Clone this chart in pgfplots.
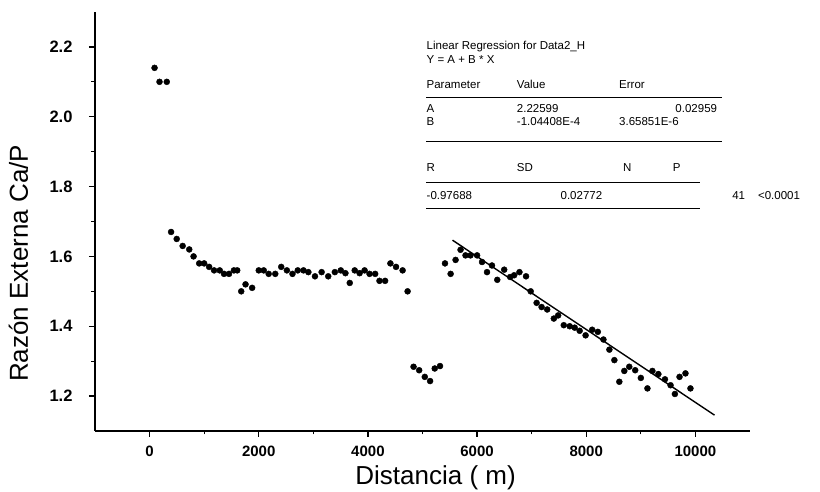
\documentclass[border=0pt]{standalone}
\usepackage{fontspec}
\setmainfont{Liberation Sans}
\usepackage{pgfplots}
\pgfplotsset{compat=1.18}
\usetikzlibrary{calc}

\pgfplotstableread{
x y
91 2.14
182 2.10
315 2.10
394 1.67
497 1.65
606 1.63
727 1.62
806 1.60
909 1.58
1000 1.58
1091 1.57
1182 1.56
1285 1.56
1364 1.55
1455 1.55
1545 1.56
1606 1.56
1679 1.50
1758 1.52
1879 1.51
2000 1.56
2091 1.56
2182 1.55
2303 1.55
2412 1.57
2515 1.56
2618 1.55
2715 1.56
2820 1.56
2909 1.555
3030 1.543
3152 1.555
3273 1.543
3394 1.555
3503 1.56
3588 1.552
3667 1.524
3758 1.56
3848 1.552
3939 1.56
4030 1.55
4133 1.55
4212 1.53
4315 1.53
4412 1.58
4515 1.57
4636 1.56
4727 1.50
4836 1.284
4939 1.274
5042 1.255
5139 1.243
5224 1.279
5321 1.286
5412 1.58
5515 1.55
5606 1.59
5697 1.619
5788 1.603
5879 1.603
6000 1.603
6091 1.584
6182 1.555
6273 1.574
6370 1.533
6497 1.562
6606 1.541
6679 1.546
6776 1.555
6897 1.543
6982 1.50
7091 1.467
7182 1.455
7285 1.448
7406 1.422
7485 1.431
7588 1.403
7697 1.40
7788 1.396
7879 1.387
7988 1.374
8109 1.39
8212 1.384
8315 1.362
8424 1.333
8515 1.303
8606 1.241
8697 1.272
8788 1.284
8897 1.274
9000 1.252
9121 1.222
9212 1.272
9321 1.263
9442 1.248
9545 1.231
9624 1.206
9709 1.255
9818 1.265
9909 1.222
}\datatable

\begin{document}
\begin{tikzpicture}
\begin{axis}[
  name=ax, scale only axis, width=655pt, height=419pt,
  xmin=-1000, xmax=11000, ymin=1.1, ymax=2.3,
  axis x line*=bottom, axis y line*=left,
  axis line style={line width=1.3pt,-},
  tick align=outside, major tick length=6pt, minor tick length=3.5pt,
  every tick/.style={black, line width=1.2pt},
  xtick={0,2000,4000,6000,8000,10000}, minor x tick num=1,
  ytick={1.2,1.4,1.6,1.8,2.0,2.2}, minor y tick num=1,
  scaled x ticks=false,
  /pgf/number format/assume math mode=true,
  x tick label style={font=\fontsize{15}{18}\selectfont\bfseries, /pgf/number format/1000 sep={}, yshift=-5pt},
  y tick label style={font=\fontsize{16.5}{18}\selectfont\bfseries, xshift=-13pt,
    /pgf/number format/fixed, /pgf/number format/precision=1, /pgf/number format/fixed zerofill},
  xlabel={Distancia ( m)}, ylabel={Razón Externa Ca/P},
  label style={font=\fontsize{26}{30}\selectfont},
  xlabel style={at={(axis description cs:0.52,0)}, anchor=center, yshift=-47pt},
  ylabel style={at={(axis description cs:-0.117,0.40)}, anchor=center},
  clip=false,
]
\addplot[only marks, mark=*, mark size=3pt, black] table[x=x,y=y]{\datatable};
\addplot[black, line width=1.4pt] coordinates {(5550,1.6465) (10350,1.1454)};

\begin{scope}[every node/.style={font=\fontsize{11.5}{13}\selectfont, anchor=base west, inner sep=0pt}]
\node at (axis cs:5073,2.192) {Linear Regression for Data2\_H};
\node at (axis cs:5073,2.153) {Y = A + B * X};
\node at (axis cs:5073,2.082) {Parameter};
\node at (axis cs:6727,2.082) {Value};
\node at (axis cs:8600,2.082) {Error};
\draw[line width=0.6pt] (axis cs:5073,2.057) -- (axis cs:10491,2.057);
\node at (axis cs:5073,2.011) {A};
\node at (axis cs:6727,2.011) {2.22599};
\node[anchor=base east] at (axis cs:10400,2.011) {0.02959};
\node at (axis cs:5073,1.974) {B};
\node at (axis cs:6727,1.974) {-1.04408E-4};
\node at (axis cs:8600,1.974) {3.65851E-6};
\draw[line width=0.6pt] (axis cs:5073,1.929) -- (axis cs:10491,1.929);
\node at (axis cs:5073,1.842) {R};
\node at (axis cs:6727,1.842) {SD};
\node at (axis cs:8673,1.842) {N};
\node at (axis cs:9582,1.842) {P};
\draw[line width=0.6pt] (axis cs:5073,1.811) -- (axis cs:10091,1.811);
\node at (axis cs:5073,1.762) {-0.97688};
\node at (axis cs:7527,1.762) {0.02772};
\node at (axis cs:10673,1.762) {41};
\node at (axis cs:11145,1.762) {<0.0001};
\draw[line width=0.6pt] (axis cs:5073,1.737) -- (axis cs:10091,1.737);
\end{scope}
\end{axis}
\pgfresetboundingbox
\path[use as bounding box] ($(ax.south west)+(-95pt,-61pt)$) rectangle ($(ax.north east)+(70pt,12pt)$);
\end{tikzpicture}
\end{document}
